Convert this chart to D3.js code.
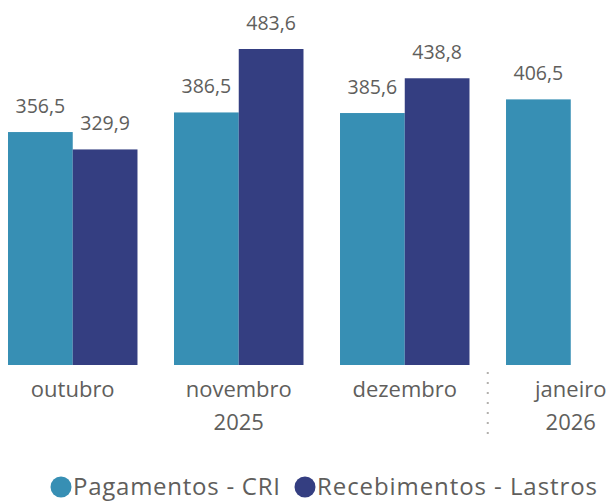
<!DOCTYPE html>
<html>
<head>
<meta charset="utf-8">
<script src="https://cdn.jsdelivr.net/npm/d3@7"></script>
<style>
  body { margin: 0; background: #fff; }
  text { font-family: "Open Sans", "Noto Sans", sans-serif; fill: #605e5c; }
</style>
</head>
<body>
<svg id="chart"></svg>
<script>
var months = ["outubro", "novembro", "dezembro", "janeiro"];
var years = [{label: "2025", months: ["outubro", "novembro", "dezembro"]},
             {label: "2026", months: ["janeiro"]}];
var seriesNames = ["Pagamentos - CRI", "Recebimentos - Lastros"];
var pagamentos = [356.5, 386.5, 385.6, 406.5];
var recebimentos = [329.9, 483.6, 438.8, null];
var colors = ["#378fb4", "#343e81"];

var screen = {width: 612, height: 502};
var baseline = 365;

var svg = d3.select("#chart")
    .attr("width", screen.width)
    .attr("height", screen.height)

var xScale = d3.scaleBand()
    .domain(months)
    .range([8, 635.5])
    .paddingInner(0.22)
    .paddingOuter(0)

var xInner = d3.scaleBand()
    .domain(seriesNames)
    .range([0, xScale.bandwidth()])

var yScale = d3.scaleLinear()
    .domain([0, 483.6])
    .range([baseline, 49])

var rows = [];
months.forEach(function(m, i)
{
    rows.push({month: m, series: seriesNames[0], value: pagamentos[i], color: colors[0]});
    if (recebimentos[i] != null)
        rows.push({month: m, series: seriesNames[1], value: recebimentos[i], color: colors[1]});
});

var fmt = function(v)
{
    return v.toFixed(1).replace(".", ",");
}

svg.selectAll("rect.bar")
    .data(rows)
    .enter()
    .append("rect")
    .attr("class", "bar")
    .attr("x", function(d){ return xScale(d.month) + xInner(d.series); })
    .attr("y", function(d){ return yScale(d.value); })
    .attr("width", xInner.bandwidth())
    .attr("height", function(d){ return baseline - yScale(d.value); })
    .style("fill", function(d){ return d.color; })

svg.selectAll("text.val")
    .data(rows)
    .enter()
    .append("text")
    .attr("class", "val")
    .attr("x", function(d){ return xScale(d.month) + xInner(d.series) + xInner.bandwidth() / 2; })
    .attr("y", function(d){ return yScale(d.value) - 19; })
    .attr("text-anchor", "middle")
    .style("font-size", "19.5px")
    .text(function(d){ return fmt(d.value); })

// month labels
svg.selectAll("text.month")
    .data(months)
    .enter()
    .append("text")
    .attr("class", "month")
    .attr("x", function(d){ return xScale(d) + xScale.bandwidth() / 2; })
    .attr("y", 397)
    .attr("text-anchor", "middle")
    .style("font-size", "22px")
    .text(function(d){ return d; })

// year labels, centred under their months
svg.selectAll("text.year")
    .data(years)
    .enter()
    .append("text")
    .attr("class", "year")
    .attr("x", function(d)
    {
        var first = xScale(d.months[0]);
        var last = xScale(d.months[d.months.length - 1]) + xScale.bandwidth();
        return (first + last) / 2;
    })
    .attr("y", 430)
    .attr("text-anchor", "middle")
    .style("font-size", "22px")
    .text(function(d){ return d.label; })

// dotted separator between years
var sepX = (xScale("dezembro") + xScale.bandwidth() + xScale("janeiro")) / 2;
svg.append("line")
    .attr("x1", sepX).attr("x2", sepX)
    .attr("y1", 372).attr("y2", 442)
    .style("stroke", "#b3b0ad")
    .style("stroke-width", 2)
    .style("stroke-dasharray", "2,8")

// legend
var legend = svg.append("g")
var legendX = [61, 305];
var legendW = [207, 280];
seriesNames.forEach(function(name, i)
{
    legend.append("circle")
        .attr("cx", legendX[i])
        .attr("cy", 487)
        .attr("r", 10.5)
        .style("fill", colors[i])
    legend.append("text")
        .attr("x", legendX[i] + 12)
        .attr("y", 495)
        .attr("textLength", legendW[i])
        .attr("lengthAdjust", "spacing")
        .style("font-size", "24px")
        .text(name)
});
</script>
</body>
</html>
